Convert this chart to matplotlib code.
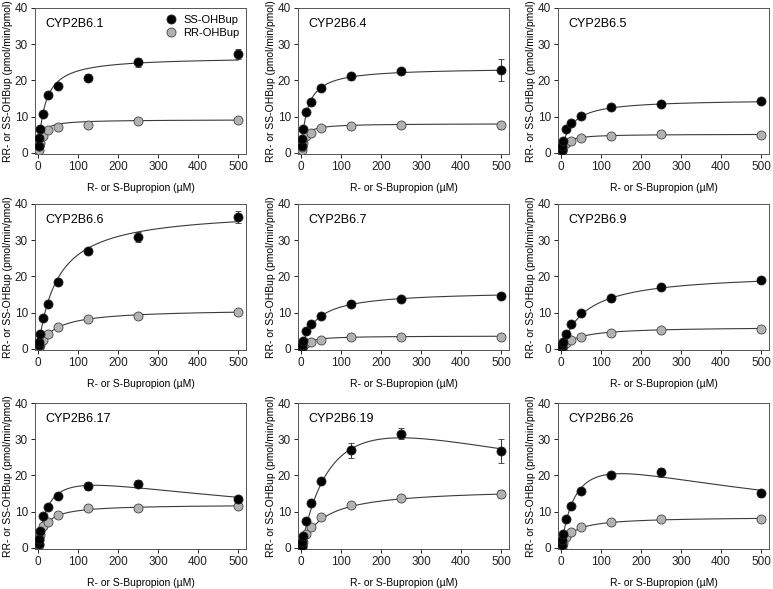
import numpy as np
import matplotlib
matplotlib.use("Agg")
import matplotlib.pyplot as plt
from matplotlib.lines import Line2D

plt.rcParams['font.family'] = ['Liberation Sans', 'DejaVu Sans']

# substrate concentrations (uM)
conc = [1, 2.5, 5, 12.5, 25, 50, 125, 250, 500]

variants = ["CYP2B6.1", "CYP2B6.4", "CYP2B6.5",
            "CYP2B6.6", "CYP2B6.7", "CYP2B6.9",
            "CYP2B6.17", "CYP2B6.19", "CYP2B6.26"]

# SS-OHBup formation (pmol/min/pmol)
ss_mean = [
    [2.0, 4.2, 6.5, 10.7, 15.9, 18.4, 20.8, 25.0, 27.3],
    [1.8, 3.8, 6.5, 11.3, 14.1, 17.9, 21.1, 22.5, 22.9],
    [0.8, 1.8, 3.3, 6.5, 8.2, 10.1, 12.7, 13.6, 14.2],
    [1.0, 2.0, 4.0, 8.4, 12.4, 18.6, 27.1, 30.9, 36.4],
    [0.5, 1.2, 2.3, 4.9, 6.9, 9.0, 12.4, 13.9, 14.7],
    [0.4, 1.0, 1.9, 4.1, 6.8, 10.0, 14.0, 17.1, 18.9],
    [1.0, 2.5, 4.6, 8.8, 11.2, 14.4, 17.1, 17.7, 13.4],
    [0.5, 1.5, 3.2, 7.5, 12.5, 18.6, 26.9, 31.5, 26.8],
    [0.9, 2.3, 3.9, 7.9, 11.5, 15.6, 20.1, 20.9, 15.1],
]
ss_err = [
    [0.2, 0.2, 0.3, 0.4, 0.3, 0.4, 1.0, 1.3, 1.3],
    [0.2, 0.2, 0.3, 0.3, 0.4, 0.4, 1.0, 0.7, 3.0],
    [0.1, 0.1, 0.2, 0.2, 0.3, 0.3, 0.4, 0.3, 0.4],
    [0.1, 0.2, 0.2, 0.3, 0.3, 0.6, 0.4, 1.3, 1.6],
    [0.1, 0.1, 0.1, 0.2, 0.2, 0.3, 0.4, 0.6, 0.7],
    [0.1, 0.1, 0.1, 0.2, 0.3, 0.3, 1.0, 0.4, 0.5],
    [0.1, 0.2, 0.2, 0.3, 0.4, 0.5, 1.1, 1.0, 1.0],
    [0.1, 0.1, 0.2, 0.3, 0.4, 0.6, 2.0, 1.5, 3.3],
    [0.1, 0.2, 0.2, 0.3, 0.4, 0.6, 0.6, 1.2, 1.0],
]

# RR-OHBup formation
rr_mean = [
    [0.9, 1.8, 2.8, 4.7, 6.3, 7.2, 7.7, 8.8, 9.2],
    [0.7, 1.5, 2.6, 4.6, 5.6, 6.8, 7.5, 7.8, 7.6],
    [0.4, 0.9, 1.6, 2.8, 3.3, 4.1, 4.6, 5.1, 5.0],
    [0.3, 0.7, 1.2, 2.5, 4.0, 6.0, 8.2, 9.1, 10.1],
    [0.2, 0.5, 0.9, 1.5, 1.9, 2.4, 3.2, 3.4, 3.4],
    [0.2, 0.4, 0.8, 1.6, 2.4, 3.4, 4.5, 5.3, 5.5],
    [0.9, 2.2, 3.6, 6.1, 7.2, 9.2, 11.0, 11.0, 11.6],
    [0.3, 0.7, 1.5, 3.8, 5.7, 8.4, 11.9, 13.9, 14.9],
    [0.3, 0.8, 1.4, 2.9, 4.3, 5.8, 7.1, 8.1, 8.0],
]
rr_err = [
    [0.1, 0.1, 0.2, 0.2, 0.3, 0.3, 0.3, 0.4, 0.4],
    [0.1, 0.1, 0.2, 0.2, 0.3, 0.3, 0.4, 0.4, 1.0],
    [0.1, 0.1, 0.1, 0.1, 0.2, 0.2, 0.2, 0.2, 0.2],
    [0.1, 0.1, 0.1, 0.2, 0.2, 0.3, 0.3, 0.4, 0.4],
    [0.1, 0.1, 0.1, 0.1, 0.1, 0.1, 0.2, 0.2, 0.2],
    [0.1, 0.1, 0.1, 0.1, 0.1, 0.2, 0.2, 0.2, 0.3],
    [0.1, 0.1, 0.2, 0.2, 0.3, 0.3, 0.4, 0.4, 0.9],
    [0.1, 0.1, 0.1, 0.2, 0.2, 0.3, 0.9, 0.4, 1.0],
    [0.1, 0.1, 0.1, 0.1, 0.2, 0.2, 0.3, 0.3, 0.3],
]

# fitted kinetic parameters (Vmax, Km, Ki; Ki=None -> plain Michaelis-Menten)
ss_fit = [(26.5, 17, None), (23.5, 15, None), (14.8, 24, None),
          (38.5, 48, None), (16.0, 38, None), (21.0, 62, None),
          (23.4, 25, 800), (54.7, 100, 625), (31.7, 41, 549)]
rr_fit = [(9.2, 8, None), (8.1, 8, None), (5.2, 11, None),
          (11.0, 42, None), (3.6, 15, None), (6.1, 40, None),
          (12.0, 17, None), (16.5, 55, None), (8.6, 28, None)]


def rate(s, vmax, km, ki):
    if ki is None:
        return vmax * s / (km + s)
    return vmax * s / (km + s + s * s / ki)


W, H = 773, 589
fig = plt.figure(figsize=(W / 100, H / 100), dpi=100)

lefts = [35, 298, 558]
tops = [8, 204, 403]
aw, ah = 211, 146

s_curve = np.linspace(0, 500, 400)
line_col = '#3a3a3a'
ss_col, rr_col = 'black', '#b2b2b2'

for i, name in enumerate(variants):
    r, c = divmod(i, 3)
    ax = fig.add_axes([lefts[c] / W, 1 - (tops[r] + ah) / H, aw / W, ah / H])

    ax.plot(s_curve, rate(s_curve, *ss_fit[i]), color=line_col, lw=0.8, zorder=2)
    ax.plot(s_curve, rate(s_curve, *rr_fit[i]), color=line_col, lw=0.8, zorder=2)

    ax.errorbar(conc, ss_mean[i], yerr=ss_err[i], fmt='o', ms=6.5,
                mfc=ss_col, mec='#222222', mew=0.6, ecolor='#333333',
                elinewidth=0.7, capsize=2.5, capthick=0.7, zorder=4)
    ax.errorbar(conc, rr_mean[i], yerr=rr_err[i], fmt='o', ms=6.5,
                mfc=rr_col, mec='#444444', mew=0.6, ecolor='#333333',
                elinewidth=0.7, capsize=2.5, capthick=0.7, zorder=3)

    ax.set_xlim(-8, 520)
    ax.set_ylim(-0.3, 40)
    ax.set_xticks(range(0, 501, 100))
    ax.set_yticks(range(0, 41, 10))
    ax.tick_params(direction='out', length=3, width=0.7, labelsize=8.5,
                   colors='#222222', pad=2)
    for sp in ax.spines.values():
        sp.set_linewidth(0.7)
        sp.set_color('#555555')

    ax.set_xlabel('R- or S-Bupropion (µM)', fontsize=7.5, labelpad=7)
    ax.set_ylabel('RR- or SS-OHBup (pmol/min/pmol)', fontsize=7.5, labelpad=1.5)
    ax.text(0.05, 0.93, name, transform=ax.transAxes, fontsize=9,
            ha='left', va='top')

    if i == 0:
        handles = [Line2D([], [], ls='none', marker='o', ms=6.5, mfc=ss_col,
                          mec='#222222', mew=0.6),
                   Line2D([], [], ls='none', marker='o', ms=6.5, mfc=rr_col,
                          mec='#444444', mew=0.6)]
        ax.legend(handles, ['SS-OHBup', 'RR-OHBup'], loc='upper right',
                  frameon=False, fontsize=8, handletextpad=0.5,
                  borderaxespad=0.2, labelspacing=0.3, handlelength=1.2)

fig.savefig('out.png', dpi=100)
